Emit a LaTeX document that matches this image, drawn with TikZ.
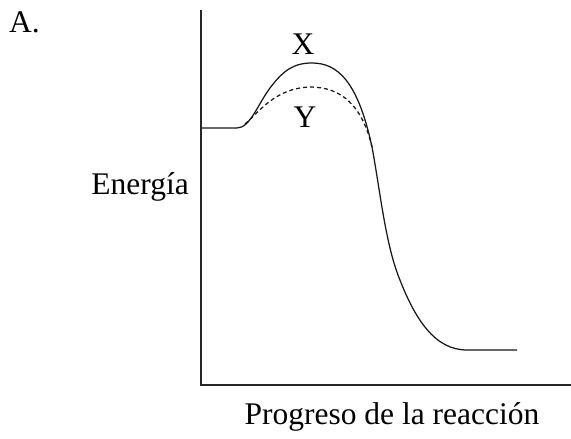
\documentclass[tikz,border=0pt]{standalone}
\usepackage{fontspec}
\setmainfont{Liberation Serif}
\usepackage{tikz}
\usetikzlibrary{positioning,calc}

\begin{document}
\begin{tikzpicture}[
      x=1pt, y=-1pt,
      lbl/.style={inner sep=0pt, font=\fontsize{31.5}{36}\selectfont},
      axis/.style={line width=1.7pt, draw=black!85},
      curve/.style={line width=1.25pt, draw=black!90},
      lower/.style={curve, dashed, dash pattern=on 4pt off 3pt}
]
      \useasboundingbox (0,0) rectangle (571,439);

      % axes
      \coordinate (ytop) at (201,10);
      \coordinate (origin) at (201,385);
      \coordinate (xend) at (571,385);
      \draw[axis] (ytop) -- (origin) -- (xend);

      % labels
      \node[lbl, anchor=base west] (part) at (9,32) {A.};
      \node[lbl, anchor=base east] (energia) at (189,194) {Energía};
      \node[lbl, anchor=base] (progreso) at (392,424) {Progreso de la reacción};
      \node[lbl] (lblx) at (303,44) {X};
      \node[lbl] (lbly) at (305,117) {Y};

      % curve X (uncatalysed)
      \coordinate (start) at (201,128);
      \coordinate (rise) at (237,128);
      \coordinate (peakx) at (312,63);
      \coordinate (join) at (372,147);
      \coordinate (fall) at (398,275);
      \coordinate (low) at (467,350);
      \coordinate (stop) at (517,350);
      \draw[curve] (start) -- (rise)
            .. controls (250,128) and (258,104) .. (270,88)
            .. controls (283,71) and (293,63) .. (peakx)
            .. controls (338,63) and (358,82) .. (join)
            .. controls (380,190) and (385,240) .. (fall)
            .. controls (415,320) and (435,350) .. (low) -- (stop);

      % curve Y (catalysed)
      \coordinate (split) at (245,124);
      \coordinate (peaky) at (310,87);
      \draw[lower] (split)
            .. controls (258,113) and (275,88) .. (peaky)
            .. controls (340,87) and (362,104) .. (join);
\end{tikzpicture}
\end{document}
